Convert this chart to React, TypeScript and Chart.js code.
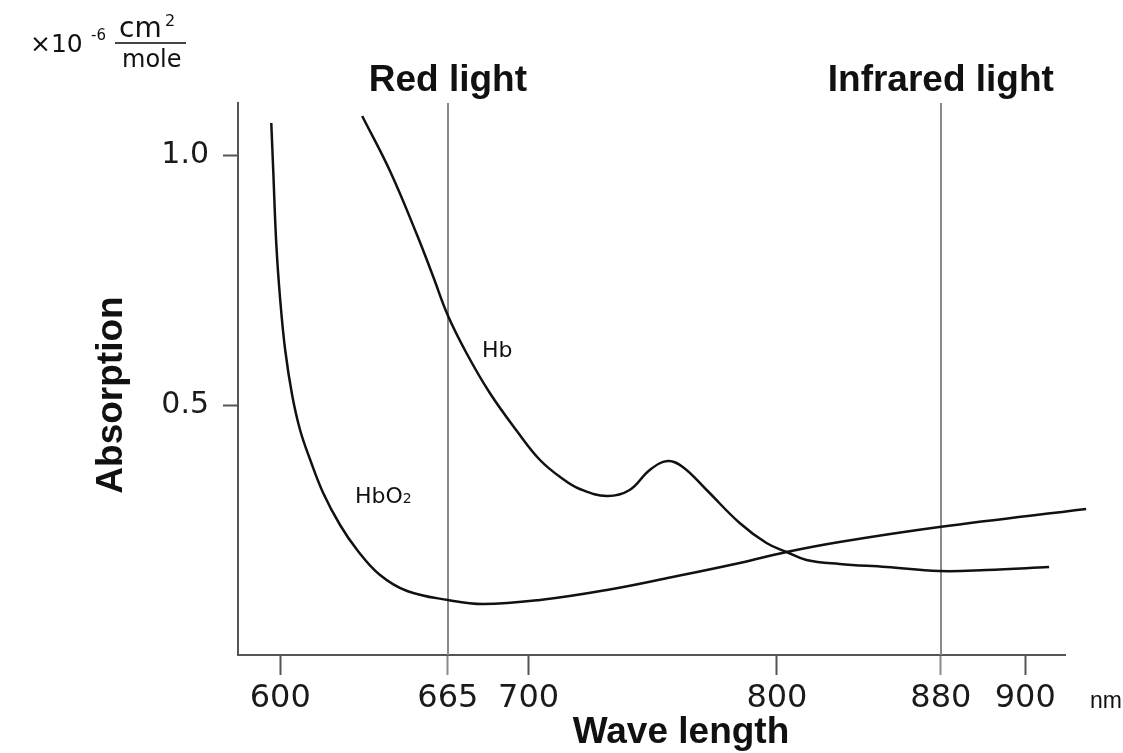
import React, { useEffect, useRef } from 'react';
import { Chart, registerables } from 'chart.js';

Chart.register(...registerables);

// Hb (deoxy-haemoglobin) curve
const hbWavelength = [633.0, 644.2, 655.1, 661.5, 667.6, 675.2, 684.4, 695.3, 704.6, 713.8, 720.6, 731.5, 740.7, 748.8, 756.0, 762.1, 771.7, 785.0, 795.8, 803.9, 811.9, 825.2, 844.1, 865.4, 884.3, 909.6];
const hbAbsorption = [1.078, 0.968, 0.840, 0.758, 0.678, 0.602, 0.524, 0.448, 0.390, 0.352, 0.332, 0.318, 0.330, 0.370, 0.388, 0.376, 0.330, 0.264, 0.224, 0.206, 0.190, 0.182, 0.176, 0.168, 0.170, 0.176];

// HbO2 (oxy-haemoglobin) curve
const hbo2Wavelength = [596.4, 597.2, 598.4, 600.0, 602.0, 604.8, 608.0, 612.1, 617.3, 624.1, 631.0, 640.2, 651.1, 667.6, 681.6, 704.6, 731.5, 758.0, 785.0, 803.9, 825.2, 865.4, 924.5];
const hbo2Absorption = [1.064, 0.968, 0.824, 0.710, 0.610, 0.520, 0.450, 0.390, 0.324, 0.260, 0.210, 0.160, 0.128, 0.110, 0.102, 0.110, 0.130, 0.156, 0.184, 0.206, 0.226, 0.256, 0.292];

// x ticks (positions as drawn in the picture) and their labels
const xTickPositions = [600, 667.5, 700, 800, 866, 900];
const xTickLabels = ['600', '665', '700', '800', '880', '900'];
const yTickValues = [0.5, 1.0];

// vertical marker lines (Red light / Infrared light)
const markerPositions = [667.5, 866];
const markerLabels = ['Red light', 'Infrared light'];

const curveLabels = ['Hb', 'HbO'];

const NUM_FONT = '"DejaVu Sans", "Liberation Sans", sans-serif';
const BOLD_FONT = '"Liberation Sans", Arial, sans-serif';

const annotationPlugin = {
  id: 'annotations',
  beforeDatasetsDraw(chart: any) {
    const { ctx, chartArea, scales } = chart;
    ctx.save();
    ctx.strokeStyle = '#8a8a8a';
    ctx.lineWidth = 2;
    markerPositions.forEach((v) => {
      const x = Math.round(scales.x.getPixelForValue(v));
      ctx.beginPath();
      ctx.moveTo(x, chartArea.top);
      ctx.lineTo(x, chartArea.bottom);
      ctx.stroke();
    });
    ctx.restore();
  },
  afterDraw(chart: any) {
    const { ctx, scales, chartArea } = chart;
    ctx.save();
    ctx.fillStyle = '#111';

    // marker titles
    ctx.font = `bold 37px ${BOLD_FONT}`;
    ctx.textAlign = 'center';
    ctx.textBaseline = 'alphabetic';
    markerPositions.forEach((v, i) => {
      ctx.fillText(markerLabels[i], scales.x.getPixelForValue(v), chartArea.top - 12);
    });

    // axis titles
    ctx.fillText('Wave length', 681, 743);
    ctx.save();
    ctx.translate(122, 395);
    ctx.rotate(-Math.PI / 2);
    ctx.fillText('Absorption', 0, 0);
    ctx.restore();

    // curve labels
    ctx.textAlign = 'left';
    ctx.font = `22px ${NUM_FONT}`;
    ctx.fillText(curveLabels[0], 482, 357);
    ctx.fillText(curveLabels[1], 355, 503);
    const w = ctx.measureText(curveLabels[1]).width;
    ctx.font = `14px ${NUM_FONT}`;
    ctx.fillText('2', 355 + w, 503);

    // unit "nm"
    ctx.font = `23px ${BOLD_FONT}`;
    ctx.fillText('nm', 1090, 708);

    // unit label  x10^-6 cm2/mole
    ctx.font = `25px ${NUM_FONT}`;
    ctx.fillText('\u00d710', 30, 52);
    ctx.font = `15px ${NUM_FONT}`;
    ctx.fillText('-6', 91, 40);
    ctx.font = `28px ${NUM_FONT}`;
    ctx.fillText('cm', 119, 37);
    ctx.font = `16px ${NUM_FONT}`;
    ctx.fillText('2', 165, 26);
    ctx.font = `24px ${NUM_FONT}`;
    ctx.fillText('mole', 122, 67);
    ctx.strokeStyle = '#444';
    ctx.lineWidth = 2;
    ctx.beginPath();
    ctx.moveTo(115, 43);
    ctx.lineTo(186, 43);
    ctx.stroke();

    ctx.restore();
  },
};

export default function App() {
  const canvasRef = useRef<HTMLCanvasElement | null>(null);

  useEffect(() => {
    const canvas = canvasRef.current;
    if (!canvas) return;
    const chart = new Chart(canvas, {
      type: 'scatter',
      data: {
        datasets: [
          {
            label: 'Hb',
            data: hbWavelength.map((x, i) => ({ x, y: hbAbsorption[i] })),
            showLine: true,
            borderColor: '#111',
            borderWidth: 2.5,
            pointRadius: 0,
            tension: 0.4,
            clip: false,
          } as any,
          {
            label: 'HbO2',
            data: hbo2Wavelength.map((x, i) => ({ x, y: hbo2Absorption[i] })),
            showLine: true,
            borderColor: '#111',
            borderWidth: 2.5,
            pointRadius: 0,
            tension: 0.4,
            clip: false,
          } as any,
        ],
      },
      options: {
        responsive: false,
        animation: false,
        devicePixelRatio: 1,
        layout: { padding: { top: 103, right: 58, left: 0, bottom: 0 } },
        plugins: {
          legend: { display: false },
          tooltip: { enabled: false },
          title: { display: false },
        },
        scales: {
          x: {
            type: 'linear',
            min: 583,
            max: 916,
            afterFit: (s: any) => {
              s.height = 98;
            },
            afterBuildTicks: (s: any) => {
              s.ticks = xTickPositions.map((v) => ({ value: v }));
            },
            grid: {
              display: true,
              drawOnChartArea: false,
              drawTicks: true,
              tickLength: 20,
              tickWidth: 2,
              tickColor: (c: any) =>
                markerPositions.includes(c.tick?.value) ? '#8a8a8a' : '#555',
            },
            border: { display: true, color: '#555', width: 2 },
            ticks: {
              autoSkip: false,
              maxRotation: 0,
              padding: 4,
              color: '#1a1a1a',
              font: { family: NUM_FONT, size: 32 },
              callback: (_v: any, i: number) => xTickLabels[i],
            },
          },
          y: {
            type: 'linear',
            min: 0,
            max: 1.104,
            afterFit: (s: any) => {
              s.width = 238;
            },
            afterBuildTicks: (s: any) => {
              s.ticks = yTickValues.map((v) => ({ value: v }));
            },
            grid: {
              display: true,
              drawOnChartArea: false,
              drawTicks: true,
              tickLength: 15,
              tickWidth: 2,
              tickColor: '#555',
            },
            border: { display: true, color: '#555', width: 2 },
            ticks: {
              padding: 14,
              color: '#1a1a1a',
              font: { family: NUM_FONT, size: 30 },
              callback: (v: any) => Number(v).toFixed(1),
            },
          },
        },
      },
      plugins: [annotationPlugin],
    });
    return () => chart.destroy();
  }, []);

  return (
    <div style={{ position: 'absolute', left: 0, top: 0, width: 1123, height: 753, background: '#fff' }}>
      <canvas ref={canvasRef} width={1123} height={753} style={{ display: 'block' }} />
    </div>
  );
}
